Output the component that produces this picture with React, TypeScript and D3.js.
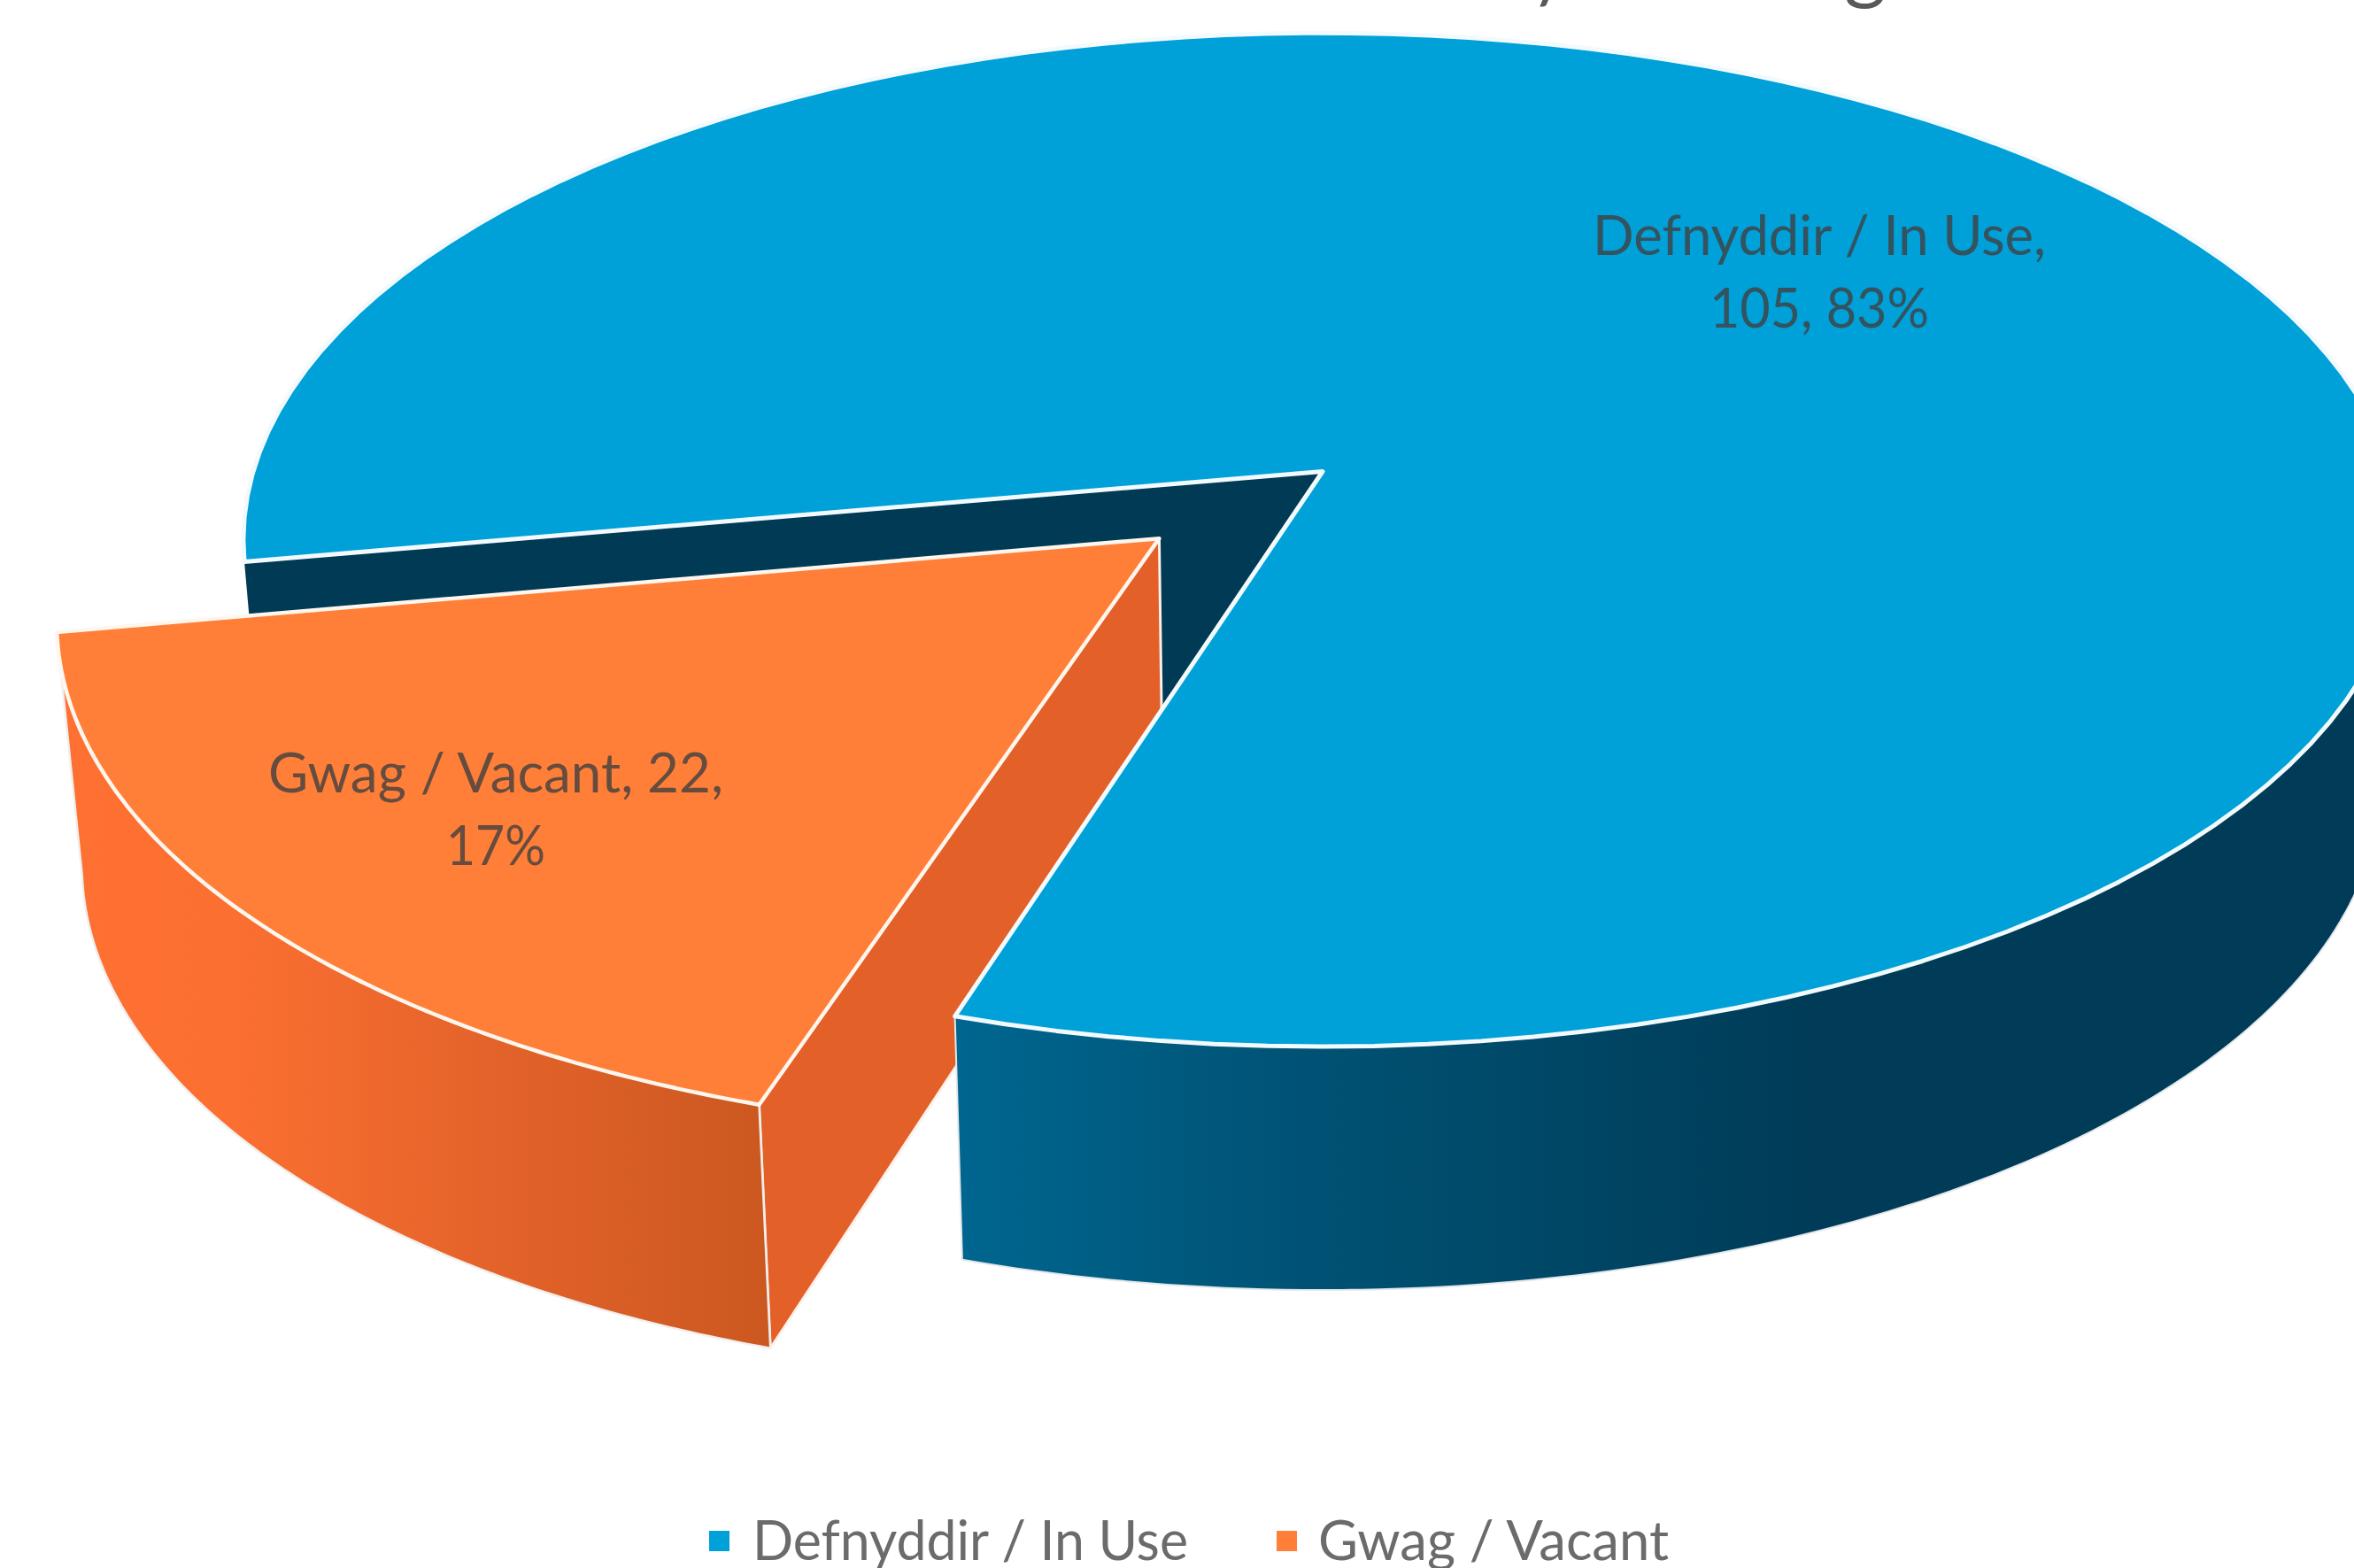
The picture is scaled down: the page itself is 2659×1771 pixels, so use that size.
import React from "react";
import * as d3 from "d3";

const categories = ["Defnyddir / In Use", "Gwag / Vacant"];
const values = [105, 22];
const percents = ["83%", "17%"];
const topColors = ["#00A0D9", "#FF7F38"];
const titleFragments = [{ text: "/", x: 1757, y: 3 }, { text: "g", x: 2107, y: -7 }];

const W = 2659, H = 1771;
const DEG = Math.PI / 180;
const pieStart = 259.8 * DEG;
// Perspective of the pie plane
const X0 = 1494, Y0 = 532.5, A = 1208, B = 562, K = 0.1348, EXPLODE = 0.2;
const DEPTH = 275, SHRINK = 0.98, CUT_DEPTH = 243;
const FONT = "Lato, 'Open Sans', sans-serif";

type P = [number, number];
const project = (u: number, v: number): P => {
  const w = 1 - K * v;
  return [X0 + (A * u) / w, Y0 + (B * v) / w];
};
const down = (u: number, v: number, d: number = DEPTH): P => {
  const [x, y] = project(u, v);
  return [X0 + (x - X0) * (1 - ((1 - SHRINK) * d) / DEPTH), y + d];
};
const path = d3.line<P>().x((d) => d[0]).y((d) => d[1]);
const rim = (a0: number, a1: number, ox: number, oy: number) =>
  d3.range(0, 121).map((i) => {
    const a = a0 + ((a1 - a0) * i) / 120;
    return [Math.sin(a) + ox, -Math.cos(a) + oy] as P;
  });

const arcs = d3.pie<number>().sort(null).startAngle(pieStart).endAngle(pieStart + 2 * Math.PI)(values);

function App() {
  const [blue, orange] = arcs;
  const mid = (orange.startAngle + orange.endAngle) / 2;
  const ox = Math.sin(mid) * EXPLODE, oy = -Math.cos(mid) * EXPLODE;

  // Blue
  const blueRim = rim(blue.startAngle, blue.endAngle, 0, 0);
  const blueTop = path([project(0, 0), ...blueRim.map((p) => project(p[0], p[1]))]) + "Z";
  const wallRim = rim(blue.endAngle, blue.endAngle - 110 * DEG, 0, 0);
  const blueWall =
    path([
      ...wallRim.map((p) => project(p[0], p[1])),
      ...wallRim.slice().reverse().map((p) => down(p[0], p[1])),
    ]) + "Z";
  const s = blueRim[0];
  const backWall = path([project(s[0], s[1]), project(0, 0), down(0, 0), down(s[0], s[1])]) + "Z";

  // Orange
  const orRim = rim(orange.startAngle, orange.endAngle, ox, oy);
  const orCenter = project(ox, oy);
  const orTop = path([orCenter, ...orRim.map((p) => project(p[0], p[1]))]) + "Z";
  const orWall =
    path([
      ...orRim.map((p) => project(p[0], p[1])),
      ...orRim.slice().reverse().map((p) => down(p[0], p[1])),
    ]) + "Z";
  const c0 = orRim[0];
  const cutWall =
    path([orCenter, project(c0[0], c0[1]), down(c0[0], c0[1]), down(ox, oy, CUT_DEPTH)]) + "Z";

  return (
    <svg
      width={W}
      height={H}
      viewBox={`0 0 ${W} ${H}`}
      style={{ position: "absolute", left: 0, top: 0, display: "block", background: "#fff" }}
    >
      <defs>
        <linearGradient id="bw" gradientUnits="userSpaceOnUse" x1={1085} x2={2060} y1={0} y2={0}>
          <stop offset="0" stopColor="#00668F" />
          <stop offset="0.4" stopColor="#005274" />
          <stop offset="1" stopColor="#003B57" />
        </linearGradient>
        <linearGradient id="ow" gradientUnits="userSpaceOnUse" x1={63} x2={870} y1={0} y2={0}>
          <stop offset="0" stopColor="#FF7133" />
          <stop offset="0.25" stopColor="#FB6F31" />
          <stop offset="0.6" stopColor="#E4632A" />
          <stop offset="1" stopColor="#CB5820" />
        </linearGradient>
      </defs>

      {titleFragments.map((t) => (
        <text key={t.text} x={t.x} y={t.y} textAnchor="middle" fontFamily={FONT} fontSize={92} fill="#595959">
          {t.text}
        </text>
      ))}

      <path d={backWall} fill="#003A55" />
      <path d={cutWall} fill="#E36029" stroke="#FBF1EA" strokeWidth={3} strokeLinejoin="round" />
      <path d={blueWall} fill="url(#bw)" stroke="#E3E8EB" strokeWidth={2} />
      <path d={blueTop} fill={topColors[0]} stroke="#F2FAFD" strokeWidth={5} strokeLinejoin="round" />

      <path d={orWall} fill="url(#ow)" stroke="#F1EFED" strokeWidth={2.5} strokeLinejoin="round" />
      <path d={orTop} fill={topColors[1]} stroke="#FFF6EE" strokeWidth={4.5} strokeLinejoin="round" />

      <g fontFamily={FONT} fontSize={61} textAnchor="middle" fill="#404040" fillOpacity={0.8}>
        <text x={2055} y={288} textLength={512} lengthAdjust="spacingAndGlyphs">{`${categories[0]},`}</text>
        <text x={2055} y={370} textLength={248} lengthAdjust="spacingAndGlyphs">{`${values[0]}, ${percents[0]}`}</text>
        <text x={560} y={895} textLength={514} lengthAdjust="spacingAndGlyphs">{`${categories[1]}, ${values[1]},`}</text>
        <text x={560} y={977} textLength={112} lengthAdjust="spacingAndGlyphs">{percents[1]}</text>
      </g>

      <rect x={801} y={1729} width={23} height={23} fill={topColors[0]} />
      <text x={850} y={1762} fontFamily={FONT} fontSize={61} fill="#6B6B6B" textLength={492} lengthAdjust="spacingAndGlyphs">
        {categories[0]}
      </text>
      <rect x={1442} y={1729} width={23} height={23} fill={topColors[1]} />
      <text x={1489} y={1762} fontFamily={FONT} fontSize={61} fill="#6B6B6B" textLength={396} lengthAdjust="spacingAndGlyphs">
        {categories[1]}
      </text>
    </svg>
  );
}

export default App;
